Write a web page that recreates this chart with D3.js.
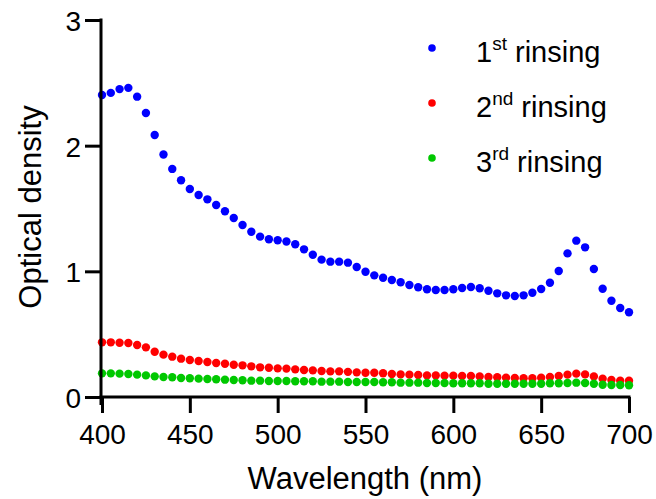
<!DOCTYPE html>
<html><head><meta charset="utf-8">
<script src="https://cdn.jsdelivr.net/npm/d3@7"></script>
<style>body{margin:0;background:#fff}svg{display:block}text{font-family:"Liberation Sans",Arial,sans-serif;fill:#000}</style>
</head><body>
<script>
const wavelengths = d3.range(400, 701, 5);
const rinse1 = [2.403,2.42,2.45,2.46,2.39,2.26,2.085,1.93,1.815,1.725,1.655,1.607,1.573,1.528,1.478,1.424,1.369,1.315,1.276,1.255,1.247,1.237,1.215,1.175,1.132,1.093,1.077,1.077,1.069,1.034,0.997,0.968,0.949,0.931,0.913,0.891,0.873,0.857,0.851,0.851,0.857,0.867,0.875,0.865,0.846,0.825,0.809,0.804,0.809,0.830,0.859,0.909,1.003,1.143,1.244,1.191,1.019,0.862,0.766,0.708,0.674];
const rinse2 = [0.435,0.435,0.432,0.43,0.414,0.395,0.36,0.337,0.321,0.305,0.294,0.286,0.279,0.271,0.265,0.257,0.252,0.244,0.236,0.233,0.228,0.226,0.22,0.215,0.212,0.207,0.204,0.204,0.2,0.196,0.193,0.193,0.189,0.183,0.180,0.178,0.175,0.172,0.172,0.170,0.170,0.167,0.167,0.164,0.159,0.157,0.154,0.151,0.149,0.149,0.154,0.159,0.167,0.178,0.186,0.180,0.164,0.146,0.135,0.130,0.130];
const rinse3 = [0.188,0.188,0.186,0.183,0.178,0.172,0.164,0.159,0.157,0.151,0.149,0.146,0.143,0.141,0.138,0.135,0.133,0.130,0.130,0.127,0.127,0.127,0.125,0.125,0.125,0.122,0.122,0.122,0.119,0.119,0.119,0.119,0.117,0.117,0.114,0.114,0.114,0.111,0.111,0.111,0.109,0.109,0.109,0.109,0.106,0.106,0.106,0.106,0.106,0.106,0.106,0.109,0.109,0.111,0.114,0.111,0.106,0.098,0.095,0.095,0.093];
const xTicks = [400,450,500,550,600,650,700];
const yTicks = [0,1,2,3];
const seriesNames = [["1","st"," rinsing"],["2","nd"," rinsing"],["3","rd"," rinsing"]];
const seriesColors = ["#0000ff","#ff0000","#00c800"];
const seriesData = [rinse1, rinse2, rinse3];

const W = 656, H = 499;
const svg = d3.select("body").append("svg").attr("width", W).attr("height", H);
const x = d3.scaleLinear().domain([400,700]).range([102,629]);
const y = d3.scaleLinear().domain([0,3]).range([397,20]);

// points
seriesData.forEach((vals, i) => {
  svg.append("g").selectAll("circle").data(wavelengths.map((w,j)=>[w,vals[j]])).join("circle")
    .attr("cx", d => x(d[0])).attr("cy", d => y(d[1])).attr("r", 4.2)
    .attr("fill", seriesColors[i]);
});

// axes
const xAxis = svg.append("g").attr("transform", "translate(0,397)")
  .call(d3.axisBottom(x).tickValues(xTicks).tickSize(16).tickPadding(11).tickSizeOuter(0));
const yAxis = svg.append("g").attr("transform", "translate(101,0)")
  .call(d3.axisLeft(y).tickValues(yTicks).tickFormat(d3.format("d")).tickSize(16).tickPadding(4).tickSizeOuter(0));
[xAxis, yAxis].forEach(g => {
  g.select(".domain").attr("stroke", "#000").attr("stroke-width", 3);
  g.selectAll(".tick line").attr("stroke", "#000").attr("stroke-width", 3);
  g.selectAll(".tick text").attr("font-size", 28).attr("font-family", "Liberation Sans, Arial, sans-serif").attr("fill", "#000");
});
yAxis.selectAll(".tick text").attr("dy", "0.38em");
xAxis.select(".domain").attr("d", "M99.5,0H630.5");
yAxis.select(".domain").attr("d", "M0,18.5V405");

// axis titles
svg.append("text").attr("x", 365).attr("y", 489).attr("text-anchor", "middle").attr("font-size", 31).text("Wavelength (nm)");
svg.append("text").attr("transform", "translate(41,207) rotate(-90)").attr("text-anchor", "middle").attr("font-size", 31).text("Optical density");

// legend
const leg = svg.append("g");
seriesNames.forEach((nm, i) => {
  const cy = 48 + i * 55;
  leg.append("circle").attr("cx", 432).attr("cy", cy).attr("r", 3.8).attr("fill", seriesColors[i]);
  const t = leg.append("text").attr("x", 476).attr("y", cy + 14).attr("font-size", 29);
  t.append("tspan").text(nm[0]);
  t.append("tspan").attr("font-size", 19).attr("dy", -12).text(nm[1]);
  t.append("tspan").attr("dy", 12).text(nm[2]);
});
</script>
</body></html>
